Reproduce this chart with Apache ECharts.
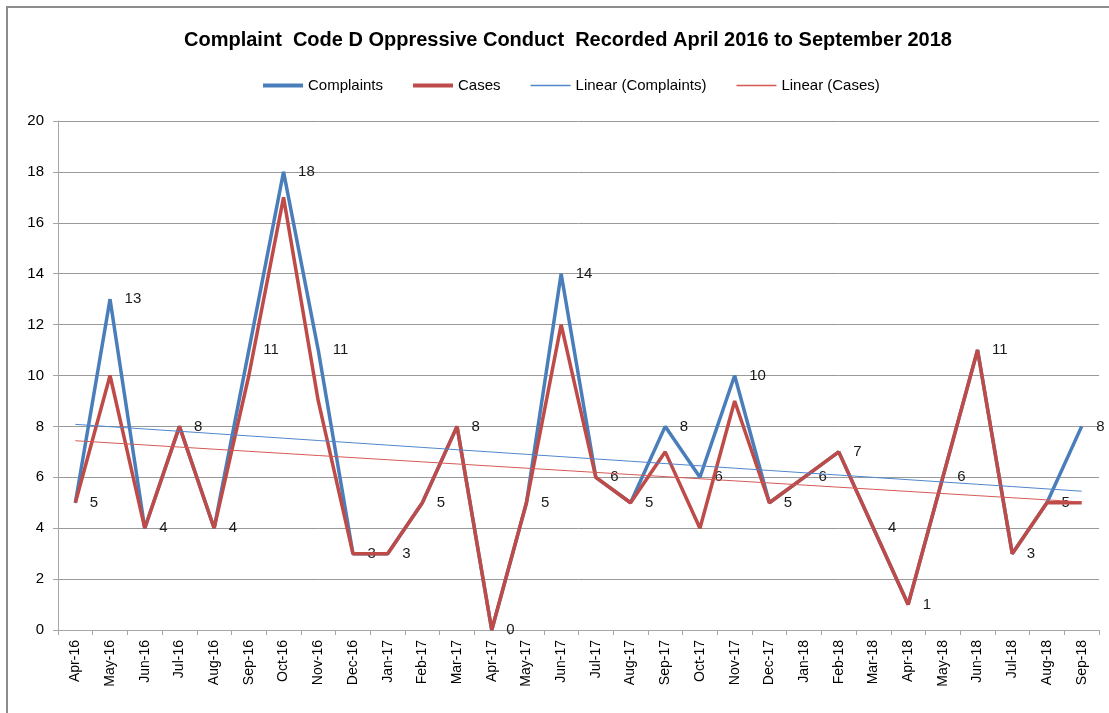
<!DOCTYPE html>
<html>
<head>
<meta charset="utf-8">
<script src="https://cdn.jsdelivr.net/npm/echarts@6/dist/echarts.min.js"></script>
<style>
html,body{margin:0;padding:0;background:#fff;}
#frame{position:absolute;left:6px;top:6px;width:1200px;height:800px;border:2px solid #8c8c8c;box-sizing:border-box;}
#chart{position:absolute;left:0;top:0;width:1109px;height:713px;}
</style>
</head>
<body>
<div id="frame"></div>
<div id="chart"></div>
<script>
const months = ["Apr-16","May-16","Jun-16","Jul-16","Aug-16","Sep-16","Oct-16","Nov-16","Dec-16","Jan-17","Feb-17","Mar-17","Apr-17","May-17","Jun-17","Jul-17","Aug-17","Sep-17","Oct-17","Nov-17","Dec-17","Jan-18","Feb-18","Mar-18","Apr-18","May-18","Jun-18","Jul-18","Aug-18","Sep-18"];
const complaints = [5,13,4,8,4,11,18,11,3,3,5,8,0,5,14,6,5,8,6,10,5,6,7,4,1,6,11,3,5,8];
const cases = [5,10,4,8,4,10,17,9,3,3,5,8,0,5,12,6,5,7,4,9,5,6,7,4,1,6,11,3,5,5];
const yTicks = [0,2,4,6,8,10,12,14,16,18,20];

function linearTrend(vals){
  const n = vals.length;
  let sx=0, sy=0, sxx=0, sxy=0;
  for(let i=0;i<n;i++){const x=i+1; sx+=x; sy+=vals[i]; sxx+=x*x; sxy+=x*vals[i];}
  const b=(n*sxy-sx*sy)/(n*sxx-sx*sx);
  const a=(sy-b*sx)/n;
  return vals.map((v,i)=>+(a+b*(i+1)).toFixed(4));
}

const chart = echarts.init(document.getElementById('chart'), null, {renderer:'canvas'});
const blue = '#4A7EBB', red = '#BE4B48', tBlue = '#4f86cc', tRed = '#d45955';
const thick = 'path://M0,0H40V4H0Z', thin = 'path://M0,0H40V1.6H0Z';
chart.setOption({
  animation:false,
  backgroundColor:'transparent',
  title:{
    text:'Complaint  Code D Oppressive Conduct  Recorded April 2016 to September 2018',
    left:563, textAlign:'center', top:25,
    textStyle:{fontFamily:'Liberation Sans', fontWeight:'bold', fontSize:20, color:'#000'}
  },
  legend:{
    top:73, left:258,
    itemWidth:40, itemHeight:12, itemGap:30,
    textStyle:{fontFamily:'Liberation Sans', fontSize:15, color:'#000'},
    data:[
      {name:'Complaints', icon:thick, itemStyle:{color:blue}},
      {name:'Cases', icon:thick, itemStyle:{color:red}},
      {name:'Linear (Complaints)', icon:thin, itemStyle:{color:tBlue}},
      {name:'Linear (Cases)', icon:thin, itemStyle:{color:tRed}}
    ]
  },
  grid:{left:58, right:10, top:121, bottom:83, containLabel:false},
  xAxis:{
    type:'category', data:months, boundaryGap:true,
    axisLine:{lineStyle:{color:'#a6a6a6', width:1}},
    axisTick:{show:true, length:5, alignWithLabel:false, lineStyle:{color:'#a6a6a6'}},
    axisLabel:{rotate:90, interval:0, margin:10, fontFamily:'Liberation Sans', fontSize:14, color:'#000'}
  },
  yAxis:{
    type:'value', min:0, max:20, interval:2,
    axisLine:{show:true, lineStyle:{color:'#a6a6a6'}},
    axisTick:{show:true, inside:false, length:5, lineStyle:{color:'#a6a6a6'}},
    axisLabel:{margin:14, fontFamily:'Liberation Sans', fontSize:15, color:'#000',
      formatter:(v)=> yTicks.includes(v) ? String(v) : ''},
    splitLine:{lineStyle:{color:'#999999', width:1}}
  },
  series:[
    {name:'Complaints', type:'line', data:complaints, symbol:'circle', symbolSize:1, showSymbol:true, showAllSymbol:true, z:2,
      lineStyle:{color:blue, width:3.5}, itemStyle:{color:blue},
      label:{show:true, position:'right', distance:14, fontFamily:'Liberation Sans', fontSize:15, color:'#1a1a1a'}},
    {name:'Cases', type:'line', data:cases, symbol:'none', z:3,
      lineStyle:{color:red, width:3.5}, itemStyle:{color:red}},
    {name:'Linear (Complaints)', type:'line', data:linearTrend(complaints), symbol:'none', z:4,
      lineStyle:{color:tBlue, width:1}, itemStyle:{color:tBlue}},
    {name:'Linear (Cases)', type:'line', data:linearTrend(cases), symbol:'none', z:5,
      lineStyle:{color:tRed, width:1}, itemStyle:{color:tRed}}
  ]
});
</script>
</body>
</html>
